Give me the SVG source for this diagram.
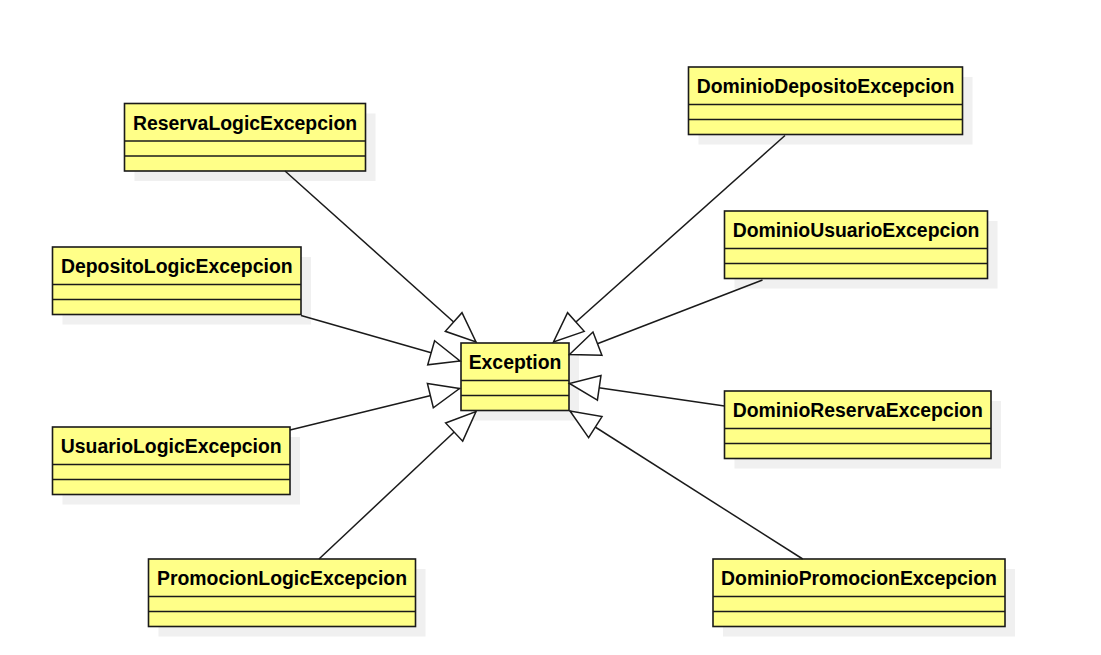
<svg xmlns="http://www.w3.org/2000/svg" width="1101" height="655" viewBox="0 0 1101 655">
<style>
.shadow{fill:#f0f0f0;stroke:none}
.box{fill:#ffff88;stroke:#1a1a1a;stroke-width:1.6}
.div{stroke:#1a1a1a;stroke-width:1.6}
.lbl{font-family:"Liberation Sans",Arial,sans-serif;font-weight:bold;font-size:19.4px;fill:#000;text-anchor:middle}
.edge{stroke:#1a1a1a;stroke-width:1.5;fill:none;marker-end:url(#gen)}
</style>
<defs>
<marker id="gen" markerUnits="userSpaceOnUse" viewBox="-2 -2 34 29" markerWidth="34" markerHeight="29" refX="30" refY="12.5" orient="auto">
<path d="M0,0 L30,12.5 L0,25 Z" fill="#fff" stroke="#1a1a1a" stroke-width="1.5"/>
</marker>
</defs>
<rect width="1101" height="655" fill="#fff"/>
<g id="ReservaLogicExcepcion">
<rect class="shadow" x="134.5" y="113.5" width="241" height="67.5"/>
<rect class="box" x="124.5" y="103.5" width="241" height="67.5"/>
<line class="div" x1="124.5" y1="141" x2="365.5" y2="141"/>
<line class="div" x1="124.5" y1="156" x2="365.5" y2="156"/>
<text class="lbl" x="245" y="129.5">ReservaLogicExcepcion</text>
</g>
<g id="DepositoLogicExcepcion">
<rect class="shadow" x="62.5" y="257" width="248.5" height="67.5"/>
<rect class="box" x="52.5" y="247" width="248.5" height="67.5"/>
<line class="div" x1="52.5" y1="284.5" x2="301" y2="284.5"/>
<line class="div" x1="52.5" y1="299.5" x2="301" y2="299.5"/>
<text class="lbl" x="176.75" y="273">DepositoLogicExcepcion</text>
</g>
<g id="UsuarioLogicExcepcion">
<rect class="shadow" x="62.5" y="437" width="237.5" height="67.5"/>
<rect class="box" x="52.5" y="427" width="237.5" height="67.5"/>
<line class="div" x1="52.5" y1="464.5" x2="290" y2="464.5"/>
<line class="div" x1="52.5" y1="479.5" x2="290" y2="479.5"/>
<text class="lbl" x="171.25" y="453">UsuarioLogicExcepcion</text>
</g>
<g id="PromocionLogicExcepcion">
<rect class="shadow" x="158.5" y="569" width="267" height="67.5"/>
<rect class="box" x="148.5" y="559" width="267" height="67.5"/>
<line class="div" x1="148.5" y1="596.5" x2="415.5" y2="596.5"/>
<line class="div" x1="148.5" y1="611.5" x2="415.5" y2="611.5"/>
<text class="lbl" x="282" y="585">PromocionLogicExcepcion</text>
</g>
<g id="DominioDepositoExcepcion">
<rect class="shadow" x="698.5" y="77" width="274" height="67.5"/>
<rect class="box" x="688.5" y="67" width="274" height="67.5"/>
<line class="div" x1="688.5" y1="104.5" x2="962.5" y2="104.5"/>
<line class="div" x1="688.5" y1="119.5" x2="962.5" y2="119.5"/>
<text class="lbl" x="825.5" y="93">DominioDepositoExcepcion</text>
</g>
<g id="DominioUsuarioExcepcion">
<rect class="shadow" x="734.5" y="221" width="263" height="67.5"/>
<rect class="box" x="724.5" y="211" width="263" height="67.5"/>
<line class="div" x1="724.5" y1="248.5" x2="987.5" y2="248.5"/>
<line class="div" x1="724.5" y1="263.5" x2="987.5" y2="263.5"/>
<text class="lbl" x="856" y="237">DominioUsuarioExcepcion</text>
</g>
<g id="DominioReservaExcepcion">
<rect class="shadow" x="734.5" y="401" width="266.5" height="67.5"/>
<rect class="box" x="724.5" y="391" width="266.5" height="67.5"/>
<line class="div" x1="724.5" y1="428.5" x2="991" y2="428.5"/>
<line class="div" x1="724.5" y1="443.5" x2="991" y2="443.5"/>
<text class="lbl" x="857.75" y="417">DominioReservaExcepcion</text>
</g>
<g id="DominioPromocionExcepcion">
<rect class="shadow" x="723" y="569" width="292" height="67.5"/>
<rect class="box" x="713" y="559" width="292" height="67.5"/>
<line class="div" x1="713" y1="596.5" x2="1005" y2="596.5"/>
<line class="div" x1="713" y1="611.5" x2="1005" y2="611.5"/>
<text class="lbl" x="859" y="585">DominioPromocionExcepcion</text>
</g>
<g id="Exception">
<rect class="shadow" x="471" y="353" width="108" height="67.5"/>
<rect class="box" x="461" y="343" width="108" height="67.5"/>
<line class="div" x1="461" y1="380.5" x2="569" y2="380.5"/>
<line class="div" x1="461" y1="395.5" x2="569" y2="395.5"/>
<text class="lbl" x="515" y="369">Exception</text>
</g>
<g id="connectors">
<line class="edge" x1="285" y1="171" x2="476" y2="342"/>
<line class="edge" x1="301" y1="315.5" x2="460" y2="361"/>
<line class="edge" x1="290" y1="430" x2="459.5" y2="388.5"/>
<line class="edge" x1="319" y1="559" x2="476" y2="411.5"/>
<line class="edge" x1="785" y1="135.5" x2="553.5" y2="342"/>
<line class="edge" x1="762.5" y1="280" x2="569.5" y2="354.5"/>
<line class="edge" x1="724.5" y1="406" x2="569.5" y2="383.5"/>
<line class="edge" x1="802.7" y1="559" x2="570" y2="411"/>
</g>
</svg>
